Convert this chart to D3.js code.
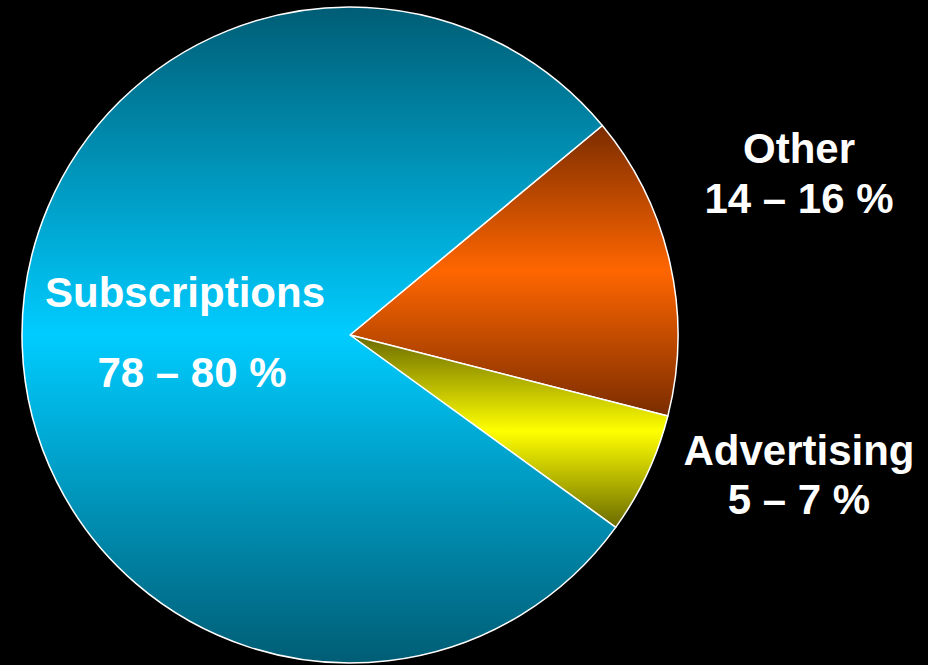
<!DOCTYPE html>
<html>
<head>
<meta charset="utf-8">
<script src="https://cdn.jsdelivr.net/npm/d3@7"></script>
<style>
  html, body { margin: 0; padding: 0; background: #000; }
  svg { display: block; }
</style>
</head>
<body>
<svg width="928" height="665"></svg>
<script>
// revenue split, shown as ranges; slice size uses the midpoint
const categories = ["Other", "Advertising", "Subscriptions"];
const lowPct = [14, 5, 78];
const highPct = [16, 7, 80];
const share = [15, 6, 79];

const svg = d3.select("svg"),
  cx = 350,
  cy = 335,
  radius = 328;

const gradColors = {
  Other: ["#7a2c00", "#ff6600"],
  Advertising: ["#6a6a00", "#ffff00"],
  Subscriptions: ["#005d75", "#00ccff"],
};

const defs = svg.append("defs");
categories.forEach((c, i) => {
  const lg = defs
    .append("linearGradient")
    .attr("id", "grad" + i)
    .attr("x1", 0).attr("y1", 0)
    .attr("x2", 0).attr("y2", 1);
  lg.append("stop").attr("offset", "0%").attr("stop-color", gradColors[c][0]);
  lg.append("stop").attr("offset", "50%").attr("stop-color", gradColors[c][1]);
  lg.append("stop").attr("offset", "100%").attr("stop-color", gradColors[c][0]);
});

const data = categories.map((c, i) => ({
  name: c,
  value: share[i],
  label: `${lowPct[i]} – ${highPct[i]} %`,
  idx: i,
}));

const pie = d3
  .pie()
  .sort(null)
  .value((d) => d.value)
  .startAngle((50.3 * Math.PI) / 180)
  .endAngle((50.3 * Math.PI) / 180 + 2 * Math.PI);

const arc = d3.arc().innerRadius(0).outerRadius(radius);

const g = svg.append("g").attr("transform", `translate(${cx},${cy})`);

g.selectAll("path")
  .data(pie(data))
  .enter()
  .append("path")
  .attr("d", arc)
  .attr("fill", (d) => `url(#grad${d.data.idx})`)
  .attr("stroke", "#fff")
  .attr("stroke-width", 1.5)
  .attr("stroke-linejoin", "round");

// label positions (name baseline, value baseline)
const labelPos = {
  Other: { x: 799, y1: 163, y2: 213 },
  Advertising: { x: 799, y1: 465, y2: 514 },
  Subscriptions: { x: 185, y1: 307, y2: 387, x2: 192 },
};

const labels = svg
  .selectAll(".lbl")
  .data(data)
  .enter()
  .append("g")
  .attr("class", "lbl")
  .attr("font-family", "'Liberation Sans', Arial, sans-serif")
  .attr("font-weight", "bold")
  .attr("font-size", 42)
  .attr("fill", "#fff")
  .attr("text-anchor", "middle");

labels
  .append("text")
  .attr("x", (d) => labelPos[d.name].x)
  .attr("y", (d) => labelPos[d.name].y1)
  .text((d) => d.name);

labels
  .append("text")
  .attr("x", (d) => labelPos[d.name].x2 || labelPos[d.name].x)
  .attr("y", (d) => labelPos[d.name].y2)
  .text((d) => d.label);
</script>
</body>
</html>
